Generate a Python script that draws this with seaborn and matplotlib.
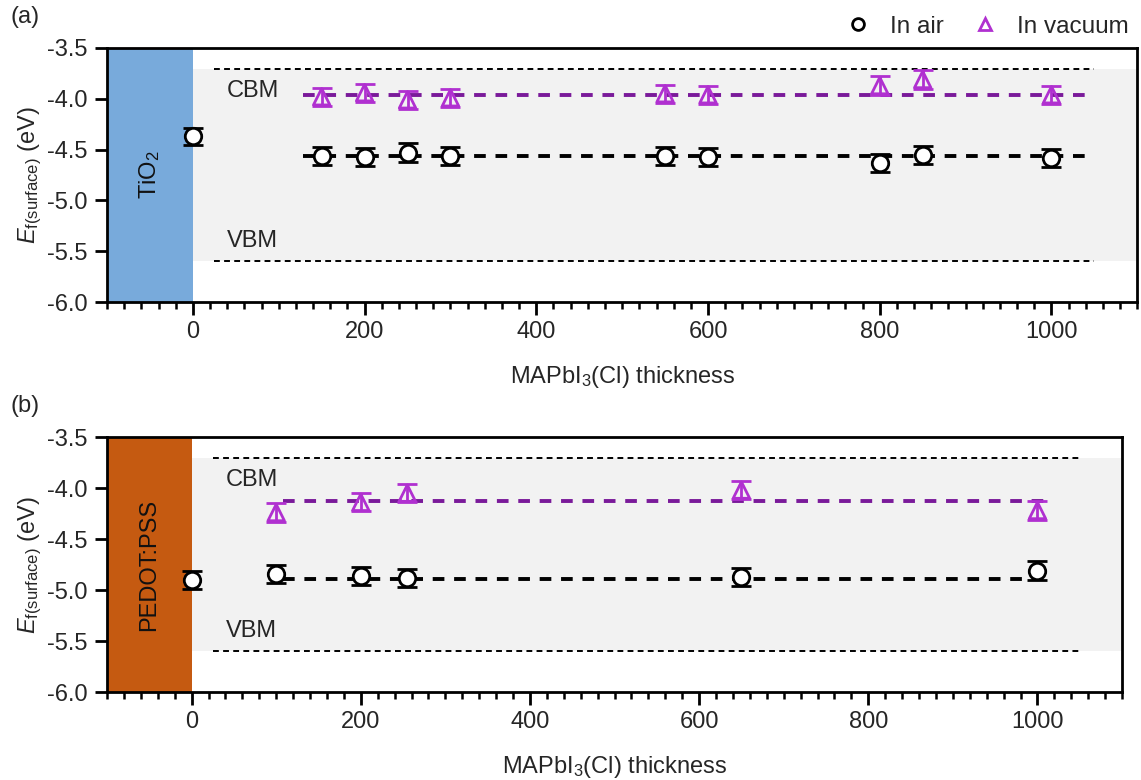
import numpy as np
import pandas as pd
import matplotlib
matplotlib.use("Agg")
import matplotlib.pyplot as plt
from matplotlib.lines import Line2D
from matplotlib.ticker import MultipleLocator
import seaborn as sns

# ---------------- data ----------------
# Panel (a): TiO2 substrate
a_air_x = [0, 150, 200, 250, 300, 550, 600, 800, 850, 1000]
a_air_y = [-4.37, -4.56, -4.57, -4.53, -4.56, -4.56, -4.57, -4.63, -4.55, -4.58]
a_air_err = [0.08, 0.09, 0.09, 0.09, 0.09, 0.09, 0.09, 0.09, 0.09, 0.09]
a_vac_x = [150, 200, 250, 300, 550, 600, 800, 850, 1000]
a_vac_y = [-3.98, -3.94, -4.01, -3.99, -3.95, -3.96, -3.87, -3.81, -3.96]
a_vac_err = [0.09, 0.09, 0.09, 0.09, 0.09, 0.09, 0.09, 0.09, 0.09]
a_air_mean = -4.56
a_vac_mean = -3.96
a_mean_span = [128, 1042]

# Panel (b): PEDOT:PSS substrate
b_air_x = [0, 100, 200, 255, 650, 1000]
b_air_y = [-4.90, -4.84, -4.86, -4.88, -4.87, -4.81]
b_air_err = [0.09, 0.09, 0.09, 0.09, 0.09, 0.09]
b_vac_x = [100, 200, 255, 650, 1000]
b_vac_y = [-4.24, -4.14, -4.05, -4.02, -4.22]
b_vac_err = [0.09, 0.09, 0.09, 0.09, 0.09]
b_air_mean = -4.89
b_vac_mean = -4.13
b_mean_span = [108, 1015]

# band edges
cbm = -3.71
vbm = -5.60
band_span = [25, 1050]

substrates = ["TiO$_2$", "PEDOT:PSS"]
substrate_colors = ["#78aadb", "#c55a11"]
panel_labels = ["(a)", "(b)"]

# ---------------- style ----------------
sns.set_style("ticks")
plt.rcParams["font.family"] = ["Liberation Sans", "DejaVu Sans"]
plt.rcParams["mathtext.fontset"] = "custom"
plt.rcParams["mathtext.rm"] = "Liberation Sans"
plt.rcParams["mathtext.it"] = "Liberation Sans:italic"
plt.rcParams["mathtext.bf"] = "Liberation Sans:bold"

FS = 17
air_color = "black"
vac_color = "#b030d0"
vac_line_color = "#7a1a9a"

fig = plt.figure(figsize=(11.41, 7.80), dpi=100)
ax_a = fig.add_axes([0.0938, 0.6128, 0.9030, 0.3257])
ax_b = fig.add_axes([0.0938, 0.1128, 0.8896, 0.3269])

panels = [
    (ax_a, a_air_x, a_air_y, a_air_err, a_vac_x, a_vac_y, a_vac_err, a_air_mean, a_vac_mean, a_mean_span),
    (ax_b, b_air_x, b_air_y, b_air_err, b_vac_x, b_vac_y, b_vac_err, b_air_mean, b_vac_mean, b_mean_span),
]

for i, (ax, ax_x, ax_y, ax_e, vx, vy, ve, am, vm, span) in enumerate(panels):
    ax.set_xlim(-100, 1100)
    ax.set_ylim(-6.0, -3.5)
    # substrate block
    ax.axvspan(-100, 0, color=substrate_colors[i], zorder=0, lw=0)
    # bandgap band
    ax.fill_between([0, 1100], [vbm, vbm], [cbm, cbm], color="#f2f2f2", zorder=0, lw=0)
    ax.hlines([cbm, vbm], band_span[0], band_span[1], colors="black",
              linestyles=(0, (3, 2.2)), linewidth=1.4, zorder=1)
    # mean lines
    ax.hlines(am, span[0], span[1], colors=air_color, linestyles=(0, (3, 2.5)),
              linewidth=2.8, zorder=2)
    ax.hlines(vm, span[0], span[1], colors=vac_line_color, linestyles=(0, (3, 2.5)),
              linewidth=2.8, zorder=2)

    df_air = pd.DataFrame({"x": ax_x, "y": ax_y, "e": ax_e})
    df_vac = pd.DataFrame({"x": vx, "y": vy, "e": ve})

    ax.errorbar(df_air["x"], df_air["y"], yerr=df_air["e"], fmt="none",
                ecolor=air_color, elinewidth=2, capsize=7, capthick=2, zorder=3)
    ax.errorbar(df_vac["x"], df_vac["y"], yerr=df_vac["e"], fmt="none",
                ecolor=vac_color, elinewidth=2, capsize=7, capthick=2, zorder=3)
    sns.scatterplot(data=df_air, x="x", y="y", ax=ax, marker="o", s=140,
                    facecolor="white", edgecolor=air_color, linewidth=2, zorder=4)
    sns.scatterplot(data=df_vac, x="x", y="y", ax=ax, marker="^", s=140,
                    facecolor="none", edgecolor=vac_color, linewidth=2, zorder=4)

    # texts
    ax.text(-50, -4.75, substrates[i], rotation=90, ha="center", va="center",
            fontsize=FS, color="#111111", zorder=5)
    ax.text(40, -3.92, "CBM", ha="left", va="center", fontsize=FS, zorder=5)
    ax.text(40, -5.40, "VBM", ha="left", va="center", fontsize=FS, zorder=5)

    # axes formatting
    ax.set_xticks([0, 200, 400, 600, 800, 1000])
    ax.xaxis.set_minor_locator(MultipleLocator(20))
    ax.set_yticks([-3.5, -4.0, -4.5, -5.0, -5.5, -6.0])
    ax.set_yticklabels(["-3.5", "-4.0", "-4.5", "-5.0", "-5.5", "-6.0"])
    ax.tick_params(axis="both", which="major", labelsize=FS, length=9, width=2,
                   direction="out", color="black", pad=5)
    ax.tick_params(axis="x", which="minor", length=5, width=1.8, color="black")
    for sp in ax.spines.values():
        sp.set_linewidth(2)
        sp.set_color("black")
        sp.set_zorder(6)
    ax.set_xlabel("MAPbI$_3$(Cl) thickness", fontsize=FS, labelpad=15)
    ax.set_ylabel("$E_{\\mathrm{f(surface)}}$ (eV)", fontsize=FS, labelpad=2)

    fig.text(0.009, ax.get_position().y1 + 0.026, panel_labels[i], fontsize=FS,
             ha="left", va="bottom")

# legend
handles = [
    Line2D([], [], marker="o", linestyle="none", markerfacecolor="none",
           markeredgecolor=air_color, markeredgewidth=2, markersize=8.5),
    Line2D([], [], marker="^", linestyle="none", markerfacecolor="none",
           markeredgecolor=vac_color, markeredgewidth=2, markersize=8.5),
]
fig.legend(handles, ["In air", "In vacuum"], loc="upper right",
           bbox_to_anchor=(1.008, 1.008), ncol=2, frameon=False, fontsize=FS + 0.5,
           handletextpad=0.7, columnspacing=1.1, handlelength=1.2)

fig.savefig("out.png", dpi=100)
